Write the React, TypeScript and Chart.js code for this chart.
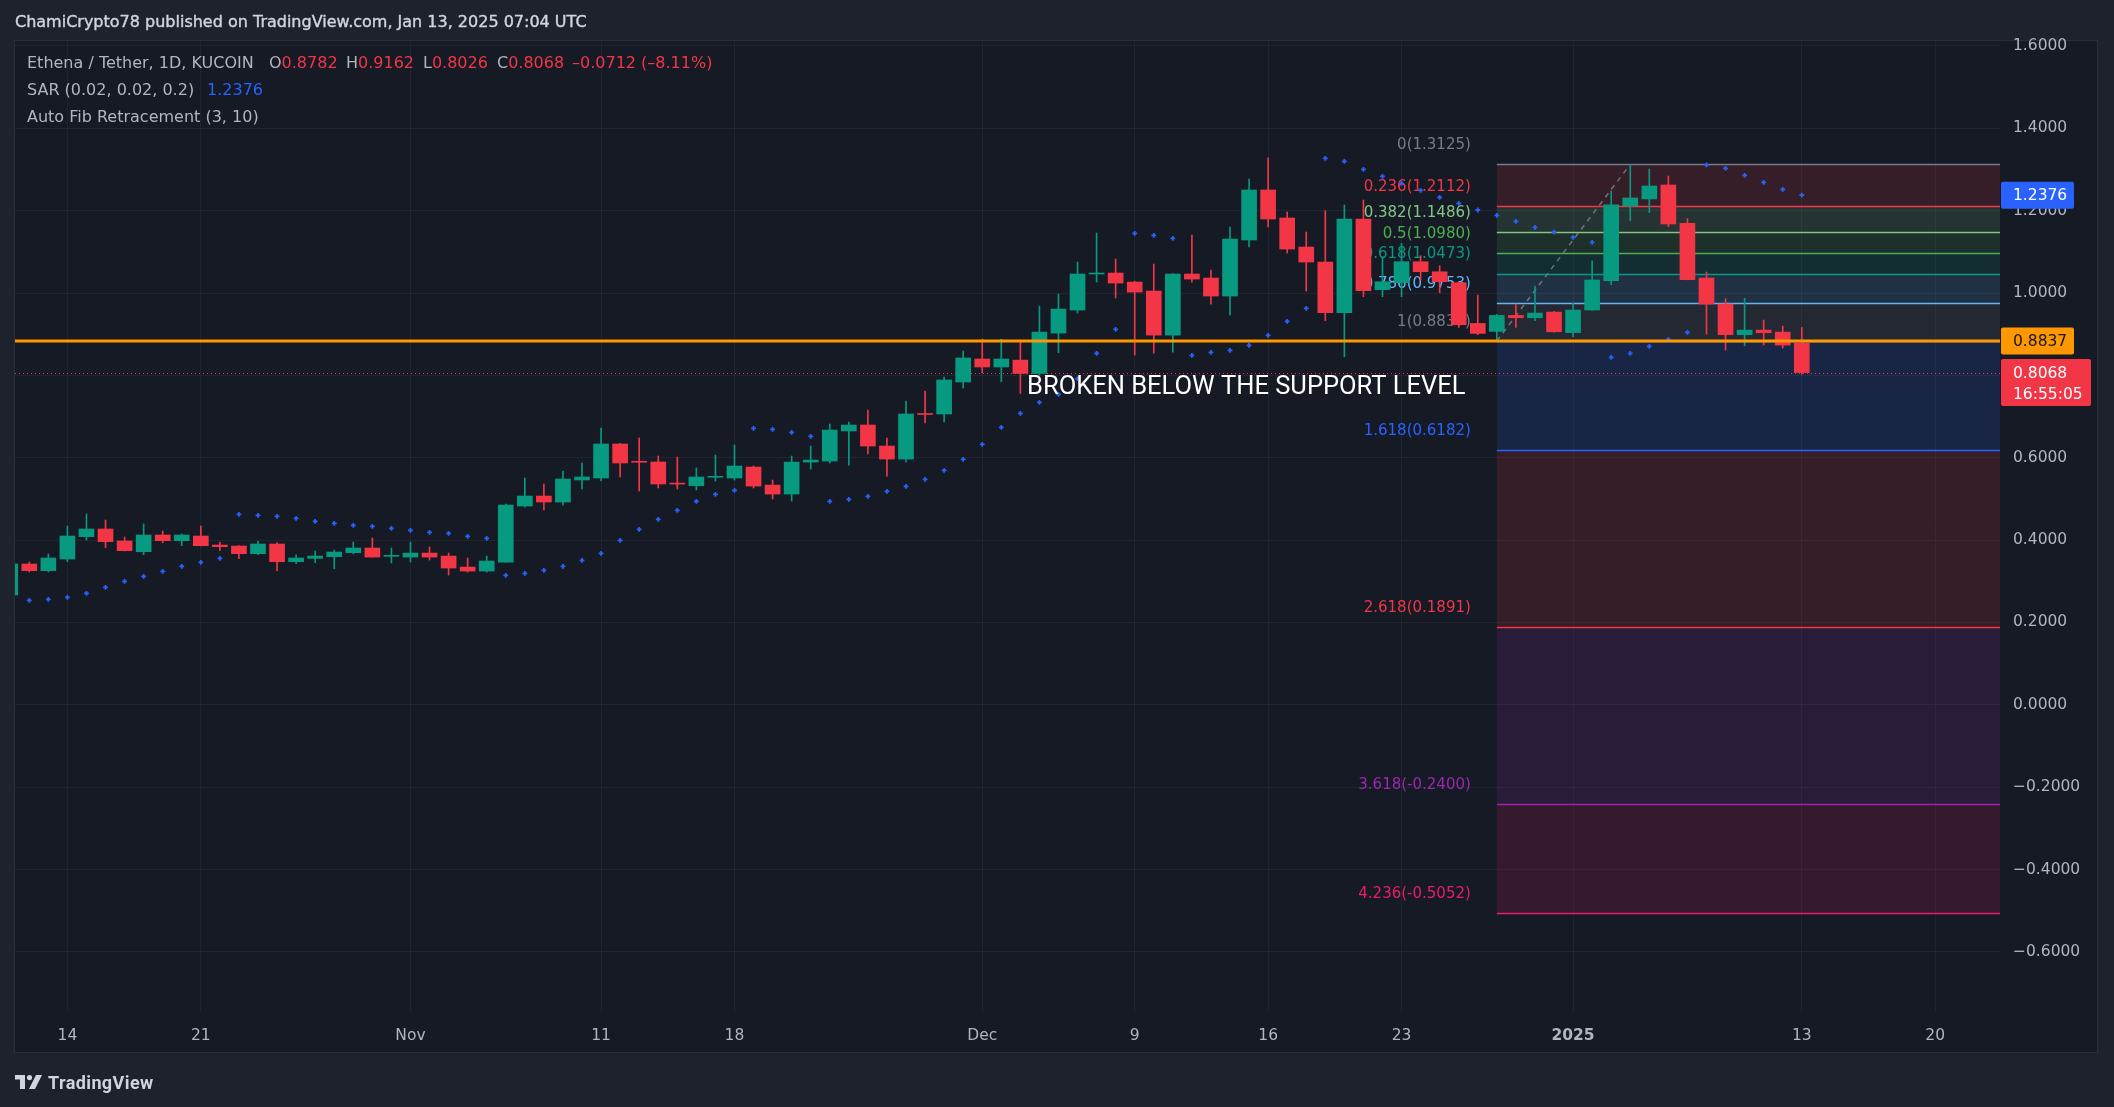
import React, { useEffect, useRef } from 'react';
import { Chart, registerables } from 'chart.js';
Chart.register(...registerables);

// ---------- DATA ----------
const dates = [
  '2024-10-11','2024-10-12','2024-10-13','2024-10-14','2024-10-15','2024-10-16','2024-10-17','2024-10-18','2024-10-19','2024-10-20','2024-10-21','2024-10-22','2024-10-23','2024-10-24','2024-10-25','2024-10-26','2024-10-27','2024-10-28','2024-10-29','2024-10-30','2024-10-31',
  '2024-11-01','2024-11-02','2024-11-03','2024-11-04','2024-11-05','2024-11-06','2024-11-07','2024-11-08','2024-11-09','2024-11-10','2024-11-11','2024-11-12','2024-11-13','2024-11-14','2024-11-15','2024-11-16','2024-11-17','2024-11-18','2024-11-19','2024-11-20','2024-11-21','2024-11-22','2024-11-23','2024-11-24','2024-11-25','2024-11-26','2024-11-27','2024-11-28','2024-11-29','2024-11-30',
  '2024-12-01','2024-12-02','2024-12-03','2024-12-04','2024-12-05','2024-12-06','2024-12-07','2024-12-08','2024-12-09','2024-12-10','2024-12-11','2024-12-12','2024-12-13','2024-12-14','2024-12-15','2024-12-16','2024-12-17','2024-12-18','2024-12-19','2024-12-20','2024-12-21','2024-12-22','2024-12-23','2024-12-24','2024-12-25','2024-12-26','2024-12-27','2024-12-28','2024-12-29','2024-12-30','2024-12-31',
  '2025-01-01','2025-01-02','2025-01-03','2025-01-04','2025-01-05','2025-01-06','2025-01-07','2025-01-08','2025-01-09','2025-01-10','2025-01-11','2025-01-12','2025-01-13',
];

const open = [
  0.2666,0.3419,0.3257,0.3540,0.4083,0.4269,0.3978,0.3718,0.4123,0.3986,0.4099,0.3880,0.3856,0.3670,0.3905,0.3475,0.3556,0.3597,0.3694,0.3807,0.3605,
  0.3588,0.3685,0.3612,0.3345,0.3248,0.3466,0.4827,0.5070,0.4924,0.5459,0.5508,0.6334,0.5897,0.5897,0.5365,0.5320,0.5525,0.5507,0.5774,0.5336,0.5118,0.5895,0.5919,0.6650,0.6794,0.6284,0.5968,0.7054,0.7062,0.7839,
  0.8398,0.8204,0.8371,0.8047,0.9027,0.9586,1.0461,1.0485,1.0266,1.0048,0.8978,1.0461,1.0363,0.9926,1.1287,1.2502,1.1822,1.1117,1.0752,0.9521,1.1797,1.0080,1.0250,1.0760,1.0517,1.0250,0.9262,0.9068,0.9456,0.9399,0.9537,
  0.9038,0.9586,1.0299,1.2114,1.2284,1.2623,1.1692,1.0364,0.9732,0.8987,0.9100,0.9051,0.8782,
];
const high = [
  0.3450,0.3467,0.3662,0.4342,0.4634,0.4488,0.4075,0.4391,0.4221,0.4148,0.4342,0.3953,0.3865,0.3978,0.3937,0.3640,0.3735,0.3759,0.3953,0.4050,0.3807,
  0.3952,0.3831,0.3685,0.3564,0.3612,0.4876,0.5508,0.5362,0.5678,0.5872,0.6723,0.6350,0.6480,0.6042,0.6018,0.5751,0.6065,0.6308,0.5798,0.5458,0.6041,0.6284,0.6819,0.6867,0.7159,0.6479,0.7378,0.7621,0.7961,0.8593,
  0.8880,0.8880,0.8816,0.9683,0.9975,1.0752,1.1457,1.0825,1.0290,1.0704,1.0470,1.1409,1.0558,1.1603,1.2769,1.3280,1.1967,1.1481,1.2000,1.2138,1.2259,1.0882,1.1206,1.0906,1.0663,1.0266,0.9950,0.9480,0.9730,1.0169,0.9553,
  0.9748,1.0779,1.2478,1.3125,1.3012,1.2842,1.1805,1.0510,0.9861,0.9870,0.9343,0.9197,0.9162,
];
const low = [
  0.2620,0.3224,0.3224,0.3475,0.4002,0.3816,0.3735,0.3646,0.3937,0.3864,0.3860,0.3743,0.3548,0.3646,0.3257,0.3427,0.3451,0.3305,0.3662,0.3585,0.3442,
  0.3466,0.3515,0.3150,0.3223,0.3223,0.3460,0.4803,0.4730,0.4851,0.5240,0.5435,0.5532,0.5192,0.5265,0.5240,0.5217,0.5434,0.5458,0.5264,0.4996,0.4948,0.5725,0.5870,0.5822,0.6090,0.5555,0.5895,0.6843,0.6867,0.7694,
  0.8058,0.7844,0.7561,0.8007,0.8550,0.9513,1.0266,0.9878,0.8492,0.8540,0.8565,1.0266,0.9732,0.9464,1.1117,1.1603,1.0971,1.0048,0.9327,0.8452,0.9910,0.9910,0.9910,1.0315,1.0007,0.9164,0.8986,0.8837,0.9164,0.9327,0.9050,
  0.8938,0.9580,1.0200,1.1758,1.1951,1.1611,1.0320,0.9003,0.8614,0.8719,0.8735,0.8662,0.8026,
];
const close = [
  0.3419,0.3257,0.3565,0.4099,0.4269,0.3961,0.3743,0.4123,0.3986,0.4123,0.3864,0.3840,0.3670,0.3905,0.3475,0.3565,0.3613,0.3710,0.3808,0.3588,0.3615,
  0.3685,0.3588,0.3321,0.3248,0.3491,0.4851,0.5070,0.4924,0.5483,0.5532,0.6334,0.5872,0.5890,0.5362,0.5360,0.5532,0.5531,0.5798,0.5312,0.5118,0.5895,0.5944,0.6673,0.6794,0.6284,0.5968,0.7062,0.7050,0.7888,0.8423,
  0.8204,0.8398,0.8047,0.9051,0.9610,1.0461,1.0485,1.0242,1.0023,0.8978,1.0461,1.0339,0.9926,1.1311,1.2502,1.1797,1.1068,1.0752,0.9521,1.1797,1.0056,1.0274,1.0760,1.0517,1.0274,0.9229,0.9019,0.9456,0.9399,0.9513,0.9059,
  0.9586,1.0317,1.2139,1.2309,1.2599,1.1676,1.0323,0.9732,0.8987,0.9100,0.9035,0.8735,0.8068,
];
const sar: (number | null)[] = [
  null,0.2536,0.2560,0.2609,0.2706,0.2852,0.2998,0.3119,0.3241,0.3362,0.3459,0.3556,0.4626,0.4601,0.4577,0.4528,0.4456,0.4407,0.4358,0.4333,0.4284,
  0.4236,0.4187,0.4163,0.4090,0.4041,0.3142,0.3191,0.3263,0.3360,0.3507,0.3677,0.3993,0.4260,0.4503,0.4722,0.4941,0.5110,0.5207,0.6713,0.6689,0.6616,0.6519,0.4940,0.4988,0.5061,0.5183,0.5304,0.5474,0.5693,0.5960,
  0.6324,0.6737,0.7075,0.7342,0.7537,0.7920,0.8533,0.9116,1.1450,1.1401,1.1328,0.8484,0.8557,0.8606,0.8728,0.8971,0.9311,0.9627,1.3271,1.3199,1.3004,1.2834,1.2664,1.2494,1.2324,1.2178,1.2016,1.1886,1.1740,1.1595,1.1481,
  1.1352,1.1230,0.8436,0.8533,0.8703,0.8873,0.9043,1.3110,1.3029,1.2859,1.2689,1.2518,1.2376,
];

const fibRatios = ['0','0.236','0.382','0.5','0.618','0.786','1','1.618','2.618','3.618','4.236'];
const fibPrices = [1.3125,1.2112,1.1486,1.0980,1.0473,0.9753,0.8837,0.6182,0.1891,-0.2400,-0.5052];
const fibColors = ['#787b86','#f23645','#81c784','#4caf50','#089981','#64b5f6','#787b86','#2962ff','#f23645','#9c27b0','#e91e63'];
const fibFrom = '2024-12-28';
const fibTo = '2025-01-04';

const supportLevel = 0.8837;
const lastPrice = 0.8068;
const lastSar = 1.2376;
const countdown = '16:55:05';
const annotationText = 'BROKEN BELOW THE SUPPORT LEVEL';

const xTickDates = ['2024-10-14','2024-10-21','2024-11-01','2024-11-11','2024-11-18','2024-12-01','2024-12-09','2024-12-16','2024-12-23','2025-01-01','2025-01-13','2025-01-20'];
const xTickLabels = ['14','21','Nov','11','18','Dec','9','16','23','2025','13','20'];
const yTicks = [-0.6,-0.4,-0.2,0,0.2,0.4,0.6,0.8,1.0,1.2,1.4,1.6];

// ---------- helpers ----------
const DAY = 86400000;
const ORIGIN = Date.UTC(2024, 9, 14);
const dayOf = (s: string) => {
  const [y, m, d] = s.split('-').map(Number);
  return (Date.UTC(y, m - 1, d) - ORIGIN) / DAY;
};
const hexA = (hex: string, a: number) => {
  const n = parseInt(hex.slice(1), 16);
  return `rgba(${(n >> 16) & 255},${(n >> 8) & 255},${n & 255},${a})`;
};
const fmtAxis = (v: number) => (v < -1e-9 ? '\u2212' : '') + Math.abs(v).toFixed(4);

const GREEN = '#089981';
const RED = '#f23645';
const BLUE = '#2962ff';
const ORANGE = '#ff9800';
const UI = '"DejaVu Sans", Verdana, sans-serif';
const ROBOTO = 'Roboto, "Noto Sans", sans-serif';

const xs = dates.map(dayOf);
const candleColors = dates.map((_, i) => (close[i] >= open[i] ? GREEN : RED));

const overlayPlugin = {
  id: 'overlay',
  beforeDatasetsDraw(chart: any) {
    const { ctx, chartArea: a, scales } = chart;
    const x = scales.x, y = scales.y;
    ctx.save();
    ctx.beginPath();
    ctx.rect(a.left, a.top, a.right - a.left, a.bottom - a.top);
    ctx.clip();
    const x0 = x.getPixelForValue(dayOf(fibFrom));
    for (let i = 1; i < fibPrices.length; i++) {
      const y1 = y.getPixelForValue(fibPrices[i - 1]);
      const y2 = y.getPixelForValue(fibPrices[i]);
      ctx.fillStyle = hexA(fibColors[i], 0.15);
      ctx.fillRect(x0, y1, a.right - x0, y2 - y1);
    }
    ctx.lineWidth = 1.5;
    for (let i = 0; i < fibPrices.length; i++) {
      const yy = Math.round(y.getPixelForValue(fibPrices[i])) + 0.5;
      ctx.strokeStyle = fibColors[i];
      ctx.beginPath();
      ctx.moveTo(x0, yy);
      ctx.lineTo(a.right, yy);
      ctx.stroke();
    }
    ctx.font = `15px ${UI}`;
    ctx.textAlign = 'right';
    ctx.textBaseline = 'middle';
    for (let i = 0; i < fibPrices.length; i++) {
      const yy = y.getPixelForValue(fibPrices[i]);
      ctx.fillStyle = fibColors[i];
      ctx.fillText(`${fibRatios[i]}(${fibPrices[i].toFixed(4)})`, x0 - 26, yy - 19);
    }
    ctx.setLineDash([5, 5]);
    ctx.strokeStyle = 'rgba(120,123,134,0.9)';
    ctx.lineWidth = 1.5;
    ctx.beginPath();
    ctx.moveTo(x0, y.getPixelForValue(fibPrices[6]));
    ctx.lineTo(x.getPixelForValue(dayOf(fibTo)), y.getPixelForValue(fibPrices[0]));
    ctx.stroke();
    ctx.setLineDash([]);
    const yl = Math.round(y.getPixelForValue(lastPrice)) + 0.5;
    ctx.strokeStyle = RED;
    ctx.lineWidth = 1;
    ctx.setLineDash([1, 3]);
    ctx.beginPath();
    ctx.moveTo(a.left, yl);
    ctx.lineTo(a.right, yl);
    ctx.stroke();
    ctx.setLineDash([]);
    ctx.restore();
  },
  afterDatasetsDraw(chart: any) {
    const { ctx, chartArea: a, scales } = chart;
    const x = scales.x, y = scales.y;
    ctx.save();
    ctx.beginPath();
    ctx.rect(a.left, a.top, a.right - a.left, a.bottom - a.top);
    ctx.clip();
    const ys = y.getPixelForValue(supportLevel);
    ctx.strokeStyle = ORANGE;
    ctx.lineWidth = 3;
    ctx.beginPath();
    ctx.moveTo(a.left, ys);
    ctx.lineTo(a.right, ys);
    ctx.stroke();
    ctx.font = `25.5px ${ROBOTO}`;
    ctx.fillStyle = '#ffffff';
    ctx.textAlign = 'left';
    ctx.textBaseline = 'alphabetic';
    ctx.fillText(annotationText, x.getPixelForValue(dayOf('2024-12-03') + 0.35), y.getPixelForValue(0.7548));
    ctx.restore();
  },
  afterDraw(chart: any) {
    const { ctx, chartArea: a, scales } = chart;
    const y = scales.y;
    ctx.save();
    ctx.font = `15.5px ${UI}`;
    ctx.textAlign = 'left';
    ctx.textBaseline = 'middle';
    const box = (val: number, color: string, textColor: string, lines: string[], w: number) => {
      const yy = y.getPixelForValue(val);
      const h = 27 + (lines.length - 1) * 20;
      ctx.fillStyle = color;
      ctx.beginPath();
      (ctx as any).roundRect(a.right + 1, yy - 13.5, w, h, 2);
      ctx.fill();
      ctx.fillStyle = textColor;
      lines.forEach((t, k) => ctx.fillText(t, a.right + 13, yy + 1 + k * 21));
    };
    box(lastSar, BLUE, '#ffffff', [lastSar.toFixed(4)], 73);
    box(supportLevel, ORANGE, '#131722', [supportLevel.toFixed(4)], 73);
    box(lastPrice, RED, '#ffffff', [lastPrice.toFixed(4), countdown], 90);
    ctx.restore();
  },
};

export default function App() {
  const ref = useRef<HTMLCanvasElement>(null);
  useEffect(() => {
    document.body.style.margin = '0';
    const xMin = dayOf('2024-10-11') + 0.25;
    const xMax = dayOf('2025-01-23') + 0.4;
    const chart = new Chart(ref.current as HTMLCanvasElement, {
      type: 'bar',
      data: {
        datasets: [
          {
            type: 'scatter',
            label: 'SAR',
            data: xs.map((xv, i) => ({ x: xv, y: sar[i] })),
            pointStyle: 'cross',
            pointRadius: 2.4,
            borderColor: BLUE,
            backgroundColor: BLUE,
            borderWidth: 1.8,
            order: 0,
          } as any,
          {
            label: 'Body',
            data: xs.map((xv, i) => ({ x: xv, y: [open[i], close[i]] })),
            backgroundColor: candleColors,
            barThickness: 15,
            minBarLength: 1,
            grouped: false,
            order: 1,
          } as any,
          {
            label: 'Wick',
            data: xs.map((xv, i) => ({ x: xv, y: [low[i], high[i]] })),
            backgroundColor: candleColors,
            barThickness: 1,
            grouped: false,
            order: 2,
          } as any,
        ],
      },
      options: {
        animation: false,
        responsive: false,
        devicePixelRatio: 1,
        events: [],
        layout: { padding: { left: 15, top: 41, right: 17, bottom: 54 } },
        plugins: { legend: { display: false }, tooltip: { enabled: false } },
        scales: {
          x: {
            type: 'linear',
            min: xMin,
            max: xMax,
            offset: false,
            afterFit: (s: any) => { s.height = 41; },
            afterBuildTicks: (s: any) => { s.ticks = xTickDates.map((d) => ({ value: dayOf(d) })); },
            grid: { color: 'rgba(42,46,57,0.55)', drawTicks: false, offset: false },
            border: { display: false },
            ticks: {
              autoSkip: false,
              maxRotation: 0,
              padding: 15,
              color: '#b2b5be',
              font: (c: any) => ({ family: UI, size: 15.5, weight: c.tick && c.tick.value === dayOf('2025-01-01') ? 'bold' : 'normal' }),
              callback: (_v: any, i: number) => xTickLabels[i],
            },
          },
          y: {
            type: 'linear',
            position: 'right',
            min: -0.746,
            max: 1.612,
            beginAtZero: false,
            afterFit: (s: any) => { s.width = 97; },
            afterBuildTicks: (s: any) => { s.ticks = yTicks.map((v) => ({ value: v })); },
            grid: { color: 'rgba(42,46,57,0.55)', drawTicks: false },
            border: { display: false },
            ticks: {
              padding: 13,
              color: '#b2b5be',
              font: { family: UI, size: 15.5 },
              callback: (v: any) => fmtAxis(Number(v)),
            },
          },
        },
      } as any,
      plugins: [overlayPlugin],
    });
    return () => chart.destroy();
  }, []);

  const label = '#b2b5be';
  const legendRow = (top: number, children: React.ReactNode) => (
    <div style={{ position: 'absolute', left: 27, top, height: 20, lineHeight: '20px', fontSize: 16, color: label, whiteSpace: 'nowrap' }}>{children}</div>
  );
  const ohlc = (left: number, k: string, v: string) => (
    <span style={{ position: 'absolute', left: left - 27, top: 0 }}>
      {k}<span style={{ color: RED }}>{v}</span>
    </span>
  );

  return (
    <div style={{ position: 'relative', width: 2114, height: 1107, background: '#1e222d', overflow: 'hidden', fontFamily: UI }}>
      <div style={{ position: 'absolute', left: 14, top: 40, width: 2084, height: 1013, background: '#161a25', border: '1px solid #2a2e39', boxSizing: 'border-box' }} />
      <canvas ref={ref} width={2114} height={1107} style={{ position: 'absolute', left: 0, top: 0 }} />
      <div style={{ position: 'absolute', left: 15, top: 12, lineHeight: '20px', fontSize: 16, fontWeight: 'normal', color: '#d1d4dc', whiteSpace: 'nowrap', WebkitTextStroke: '0.4px #d1d4dc' } as any}>
        ChamiCrypto78 published on TradingView.com, Jan 13, 2025 07:04 UTC
      </div>
      {legendRow(53, (
        <>
          <span>Ethena / Tether, 1D, KUCOIN</span>
          {ohlc(269, 'O', '0.8782')}
          {ohlc(346, 'H', '0.9162')}
          {ohlc(423, 'L', '0.8026')}
          {ohlc(497, 'C', '0.8068')}
          <span style={{ position: 'absolute', left: 572 - 27, top: 0, color: RED }}>{'\u20130.0712 (\u20138.11%)'}</span>
        </>
      ))}
      {legendRow(80, (
        <>
          <span>SAR (0.02, 0.02, 0.2)</span>
          <span style={{ position: 'absolute', left: 207 - 27, top: 0, color: BLUE }}>1.2376</span>
        </>
      ))}
      {legendRow(107, <span>Auto Fib Retracement (3, 10)</span>)}
      <div style={{ position: 'absolute', left: 15, top: 1071, height: 22, display: 'flex', alignItems: 'center', color: '#d1d4dc' }}>
        <svg width="28" height="14" viewBox="0 0 28 14" style={{ marginRight: 5 }}>
          <rect x="0" y="0" width="10" height="4.5" fill="#d1d4dc" />
          <rect x="5" y="0" width="5" height="14" fill="#d1d4dc" />
          <circle cx="14.5" cy="2.6" r="2.6" fill="#d1d4dc" />
          <polygon points="21,0 27,0 20,14 14,14" fill="#d1d4dc" />
        </svg>
        <span style={{ fontSize: 18, fontWeight: 'bold', fontFamily: ROBOTO, letterSpacing: 0.4 }}>TradingView</span>
      </div>
    </div>
  );
}
